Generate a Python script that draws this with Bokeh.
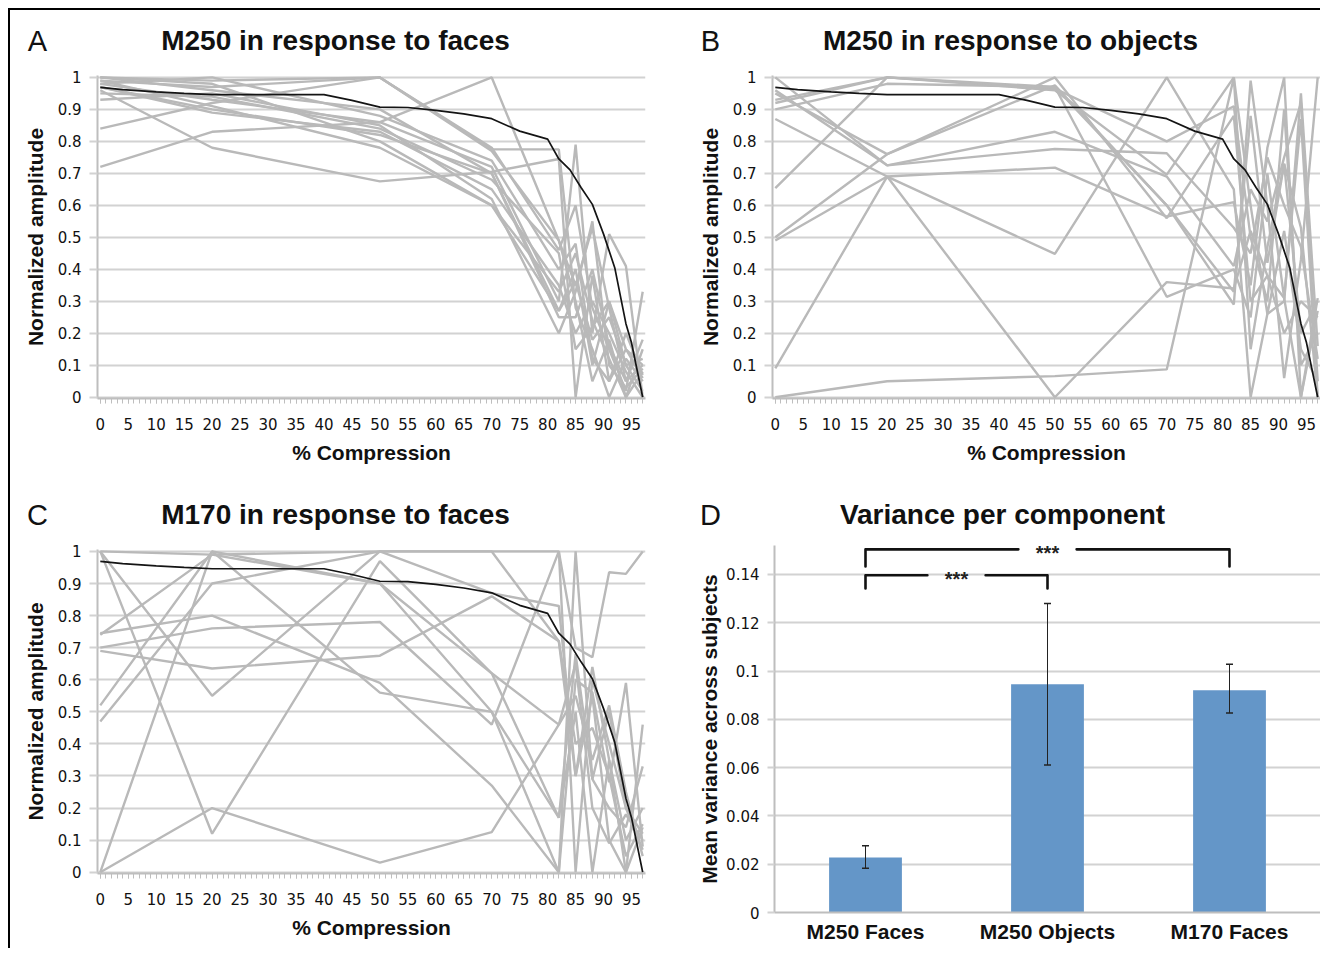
from bokeh.plotting import figure
from bokeh.models import (ColumnDataSource, FixedTicker, SingleIntervalTicker,
                          CustomJSTickFormatter, Whisker, FactorRange, Range1d, TeeHead)
from bokeh.layouts import row, column
from bokeh.embed import file_html
from bokeh.resources import INLINE
from bokeh.core.properties import value

# ---------------- data ----------------
compression = [0, 20, 50, 70, 82, 85, 88, 91, 94, 97]

ref_x = [0, 4, 10, 15, 20, 25, 30, 35, 40, 45, 50, 55, 60, 65, 70, 75, 80, 82, 84, 86, 88, 90, 92, 94, 95, 97]
ref_y = [0.969, 0.962, 0.955, 0.950, 0.946, 0.946, 0.946, 0.946, 0.946, 0.928, 0.907, 0.906, 0.897, 0.886,
         0.871, 0.832, 0.807, 0.745, 0.711, 0.655, 0.603, 0.510, 0.405, 0.230, 0.170, 0.000]

m250_faces = [
    [1.00, 0.99, 1.00, 0.78, 0.46, 0.60, 0.28, 0.15, 0.02, 0.33],
    [0.99, 0.97, 1.00, 0.77, 0.49, 0.35, 0.53, 0.28, 0.05, 0.18],
    [0.98, 0.93, 0.86, 0.72, 0.30, 0.79, 0.20, 0.51, 0.41, 0.00],
    [0.97, 0.90, 0.82, 0.70, 0.27, 0.40, 0.10, 0.30, 0.15, 0.10],
    [0.96, 0.78, 0.675, 0.705, 0.745, 0.00, 0.38, 0.05, 0.20, 0.07],
    [0.93, 0.95, 0.85, 0.62, 0.20, 0.33, 0.55, 0.10, 0.03, 0.09],
    [0.84, 0.92, 1.00, 0.775, 0.775, 0.28, 0.15, 0.00, 0.12, 0.05],
    [0.72, 0.83, 0.86, 1.00, 0.49, 0.30, 0.05, 0.18, 0.00, 0.08],
    [1.00, 0.98, 0.80, 0.60, 0.27, 0.36, 0.18, 0.25, 0.10, 0.02],
    [0.99, 0.91, 0.78, 0.60, 0.33, 0.45, 0.24, 0.12, 0.00, 0.15],
    [0.97, 0.89, 0.83, 0.65, 0.35, 0.20, 0.30, 0.20, 0.08, 0.00],
    [0.98, 1.00, 0.88, 0.74, 0.40, 0.48, 0.12, 0.05, 0.15, 0.06],
    [1.00, 0.96, 0.90, 0.70, 0.25, 0.25, 0.40, 0.16, 0.05, 0.10],
    [0.95, 0.94, 0.84, 0.68, 0.45, 0.15, 0.22, 0.30, 0.10, 0.12],
]

m250_objects = [
    [0.09, 0.69, 0.00, 0.36, 0.34, 0.52, 0.38, 0.31, 0.00, 0.27],
    [0.00, 0.05, 0.066, 0.087, 1.00, 0.15, 0.47, 0.73, 0.53, 0.00],
    [0.87, 0.69, 0.448, 1.00, 0.65, 0.00, 0.26, 0.30, 0.95, 0.16],
    [0.50, 0.76, 0.975, 0.60, 0.29, 0.99, 0.60, 0.06, 0.43, 1.00],
    [0.49, 0.69, 0.718, 0.565, 0.61, 0.35, 0.78, 1.00, 0.00, 0.31],
    [0.654, 1.00, 0.965, 0.80, 0.91, 0.50, 0.30, 0.90, 0.10, 0.20],
    [1.00, 0.725, 0.83, 0.69, 0.41, 0.65, 0.55, 0.75, 0.92, 0.05],
    [0.92, 1.00, 0.97, 0.314, 0.40, 0.25, 0.70, 0.31, 0.87, 0.00],
    [0.96, 0.725, 0.776, 0.763, 0.53, 0.45, 0.75, 0.60, 0.47, 0.12],
    [0.95, 0.76, 1.00, 0.56, 0.88, 0.30, 0.38, 0.20, 0.30, 0.25],
    [0.93, 1.00, 0.96, 0.696, 1.00, 0.60, 0.26, 0.52, 0.15, 0.05],
    [0.90, 0.98, 0.97, 0.60, 0.33, 0.88, 0.42, 0.73, 0.20, 0.30],
]

m170_faces = [
    [1.00, 0.55, 1.00, 0.87, 0.83, 0.30, 0.64, 0.35, 0.10, 0.20],
    [1.00, 0.12, 0.97, 0.62, 0.17, 0.68, 0.29, 0.50, 0.20, 0.12],
    [0.745, 0.80, 0.59, 0.27, 0.00, 0.60, 0.56, 0.28, 0.59, 0.08],
    [0.70, 0.76, 0.78, 0.46, 1.00, 0.70, 0.67, 0.935, 0.93, 1.00],
    [0.69, 0.635, 0.675, 0.86, 0.72, 0.30, 0.55, 0.10, 0.00, 0.46],
    [0.52, 1.00, 0.56, 0.50, 0.00, 1.00, 0.29, 0.20, 0.14, 0.33],
    [0.47, 0.90, 1.00, 1.00, 0.72, 0.40, 0.45, 0.30, 0.05, 0.15],
    [0.00, 0.20, 0.03, 0.125, 0.46, 0.65, 0.20, 0.09, 0.18, 0.10],
    [0.00, 1.00, 0.90, 0.50, 0.17, 0.50, 0.00, 0.35, 0.00, 0.14],
    [1.00, 0.99, 1.00, 1.00, 1.00, 0.00, 0.60, 0.40, 0.20, 0.07],
    [0.74, 0.99, 0.90, 0.62, 0.46, 0.55, 0.35, 0.52, 0.25, 0.05],
]

amp_ticks = [0, 0.1, 0.2, 0.3, 0.4, 0.5, 0.6, 0.7, 0.8, 0.9, 1.0]

conditions = ["M250 Faces", "M250 Objects", "M170 Faces"]
mean_variance = [0.0228, 0.0945, 0.0921]
variance_low = [0.0183, 0.0611, 0.0826]
variance_high = [0.0276, 0.1280, 0.1028]
var_ticks = [0, 0.02, 0.04, 0.06, 0.08, 0.1, 0.12, 0.14]

sig_pairs = [("M250 Faces", "M250 Objects"), ("M250 Faces", "M170 Faces")]
sig_levels = [0.1397, 0.1504]
sig_drops = [0.0055, 0.0071]
sig_marks = ["***", "***"]

panel_letters = ["A", "B", "C", "D"]
panel_titles = ["M250 in response to faces", "M250 in response to objects",
                "M170 in response to faces", "Variance per component"]

# ---------------- style ----------------
GRAY = "#B9B9B9"
GRID = "#D2D2D2"
AXIS = "#BEBEBE"
BLUE = "#6496C8"
TICK_FONT = "DejaVu Sans"
BOLD_FONT = "Liberation Sans"
HEADER_H = 55

fmt_code = "return String(Number(tick.toFixed(3)));"


def header(width, letter, title, letter_x, title_x, text_y):
    h = figure(width=width, height=HEADER_H, x_range=Range1d(0, width), y_range=Range1d(0, HEADER_H),
               x_axis_type=None, y_axis_type=None, output_backend="svg", toolbar_location=None,
               min_border=0)
    h.frame_align = False
    h.grid.visible = False
    h.outline_line_color = None
    h.text(x=[letter_x], y=[text_y], text=[letter], text_font=value("Liberation Sans"),
           text_font_size="29px", text_align="center", text_baseline="middle", text_color="#111111")
    h.text(x=[title_x], y=[text_y], text=[title], text_font=value(BOLD_FONT), text_font_style="bold",
           text_font_size="28px", text_align="center", text_baseline="middle", text_color="#111111")
    return h


def style_y_axis(ax, label, ticks):
    ax.ticker = FixedTicker(ticks=ticks)
    ax.formatter = CustomJSTickFormatter(code=fmt_code)
    ax.axis_line_color = AXIS
    ax.axis_line_width = 2
    ax.major_tick_line_color = GRID
    ax.major_tick_line_width = 2
    ax.major_tick_out = 8
    ax.major_tick_in = 0
    ax.minor_tick_line_color = None
    ax.major_label_text_font = TICK_FONT
    ax.major_label_text_font_size = "15px"
    ax.major_label_text_color = "#111111"
    ax.major_label_standoff = 8
    ax.axis_label = label
    ax.axis_label_text_font = BOLD_FONT
    ax.axis_label_text_font_style = "bold"
    ax.axis_label_text_font_size = "21px"
    ax.axis_label_text_color = "#111111"
    ax.axis_label_standoff = 8


def line_panel(series, width, height, bl, br, bt, bb):
    p = figure(width=width, height=height, x_range=Range1d(-0.5, 97.5), y_range=Range1d(-0.004, 1.006),
               output_backend="svg", toolbar_location=None,
               min_border_left=bl, min_border_right=br, min_border_top=bt, min_border_bottom=bb)
    p.frame_align = False
    p.outline_line_color = None
    p.xgrid.visible = False
    p.ygrid.grid_line_color = GRID
    p.ygrid.grid_line_width = 2

    src = ColumnDataSource(dict(xs=[compression] * len(series), ys=series))
    p.multi_line("xs", "ys", source=src, line_color=GRAY, line_width=2.4)
    p.line(ref_x, ref_y, line_color="#141414", line_width=1.7)

    xa = p.xaxis[0]
    xa.ticker = SingleIntervalTicker(interval=5, num_minor_ticks=5)
    xa.axis_line_color = AXIS
    xa.axis_line_width = 2
    xa.major_tick_line_color = AXIS
    xa.minor_tick_line_color = AXIS
    xa.major_tick_out = 5
    xa.major_tick_in = 0
    xa.minor_tick_out = 5
    xa.minor_tick_in = 0
    xa.major_label_text_font = TICK_FONT
    xa.major_label_text_font_size = "15px"
    xa.major_label_text_color = "#111111"
    xa.major_label_standoff = 14
    xa.axis_label = "% Compression"
    xa.axis_label_text_font = BOLD_FONT
    xa.axis_label_text_font_style = "bold"
    xa.axis_label_text_font_size = "21px"
    xa.axis_label_text_color = "#111111"
    xa.axis_label_standoff = 8

    style_y_axis(p.yaxis[0], "Normalized amplitude", amp_ticks)
    return p


hA = header(656, panel_letters[0], panel_titles[0], 27, 325, 25)
hB = header(654, panel_letters[1], panel_titles[1], 44, 344, 25)
hC = header(656, panel_letters[2], panel_titles[2], 27, 325, 21)
hD = header(654, panel_letters[3], panel_titles[3], 44, 336, 21)

pA = line_panel(m250_faces, 656, 415, 87, 21, 10, 82)
pB = line_panel(m250_objects, 654, 415, 106, 0, 10, 82)
pC = line_panel(m170_faces, 656, 413, 87, 21, 14, 75)

# ---------------- bar panel ----------------
pD = figure(width=654, height=413, x_range=FactorRange(factors=conditions), y_range=Range1d(0, 0.152),
            output_backend="svg", toolbar_location=None,
            min_border_left=108, min_border_right=0, min_border_top=10, min_border_bottom=36)
pD.frame_align = False
pD.outline_line_color = None
pD.xgrid.visible = False
pD.ygrid.grid_line_color = GRID
pD.ygrid.grid_line_width = 2

bsrc = ColumnDataSource(dict(cat=conditions, val=mean_variance, lo=variance_low, hi=variance_high))
pD.vbar(x="cat", top="val", width=0.4, source=bsrc, fill_color=BLUE, line_color=None)
pD.add_layout(Whisker(base="cat", upper="hi", lower="lo", source=bsrc, level="annotation",
                      line_color="#222222", line_width=1,
                      upper_head=TeeHead(size=7, line_color="#222222", line_width=1.5),
                      lower_head=TeeHead(size=7, line_color="#222222", line_width=1.5)))

bxs, bys, tx, ty = [], [], [], []
for (a, b), lvl, drop in zip(sig_pairs, sig_levels, sig_drops):
    i0 = conditions.index(a) + 0.5
    i1 = conditions.index(b) + 0.5
    mid = (i0 + i1) / 2
    gap = 0.16
    bxs += [[i0, i0, mid - gap], [mid + gap, i1, i1]]
    bys += [[lvl - drop, lvl, lvl], [lvl, lvl, lvl - drop]]
    tx.append(mid)
    ty.append(lvl)
pD.multi_line(bxs, bys, line_color="#111111", line_width=2.6, line_join="round", line_cap="round")
pD.text(x=tx, y=ty, text=sig_marks, text_font=value(BOLD_FONT), text_font_style="bold",
        text_font_size="20px", text_align="center", text_baseline="middle", y_offset=4, text_color="#222222")

xa = pD.xaxis[0]
xa.axis_line_color = AXIS
xa.axis_line_width = 2
xa.major_tick_line_color = None
xa.minor_tick_line_color = None
xa.major_tick_out = 0
xa.major_label_text_font = BOLD_FONT
xa.major_label_text_font_style = "bold"
xa.major_label_text_font_size = "21px"
xa.major_label_text_color = "#111111"
xa.major_label_standoff = 7
style_y_axis(pD.yaxis[0], "Mean variance across subjects", var_ticks)
pD.yaxis[0].major_tick_out = 7
pD.yaxis[0].axis_label_standoff = 2

layout = column(row(hA, hB), row(pA, pB), row(hC, hD), row(pC, pD),
                styles={"margin-left": "8px", "margin-top": "8px",
                        "border-top": "2px solid black", "border-left": "2px solid black",
                        "background-color": "white"})

open("out.html", "w").write(file_html(layout, INLINE))
